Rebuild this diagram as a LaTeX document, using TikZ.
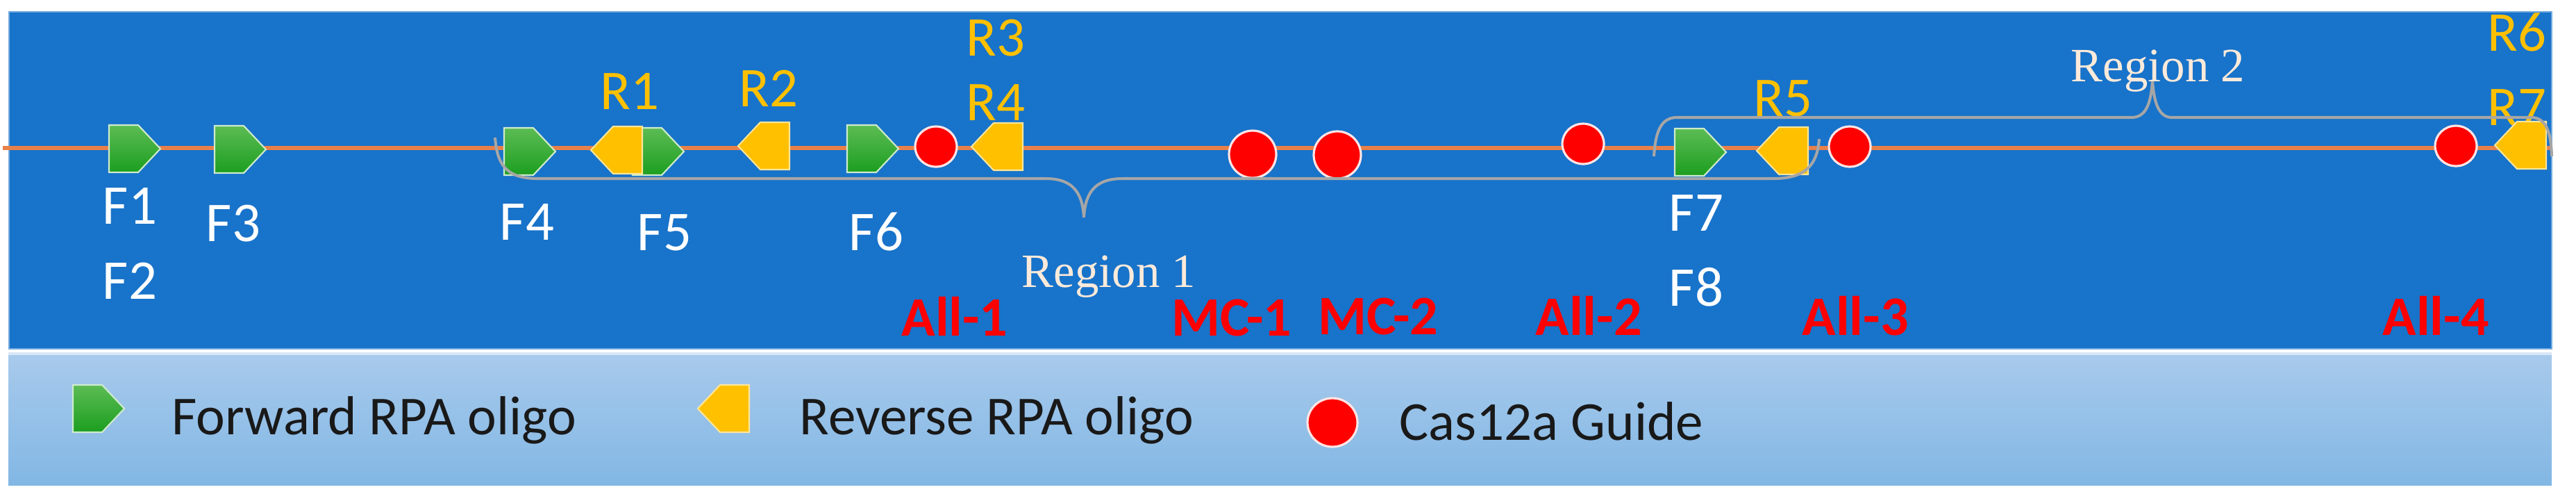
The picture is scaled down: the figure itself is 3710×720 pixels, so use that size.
\documentclass[tikz,border=0pt]{standalone}
\usepackage{fontspec}
\setmainfont{Carlito}
\newfontfamily\regionfont{Liberation Serif}
\usetikzlibrary{shapes.geometric}

\definecolor{panelblue}{RGB}{24,115,202}
\definecolor{legendtop}{RGB}{168,202,236}
\definecolor{legendbot}{RGB}{130,183,228}
\definecolor{strandorange}{RGB}{232,128,74}
\definecolor{fwdtop}{RGB}{92,188,84}
\definecolor{fwdbot}{RGB}{28,158,32}
\definecolor{revyellow}{RGB}{255,192,0}
\definecolor{guidered}{RGB}{255,0,0}
\definecolor{bracegray}{RGB}{166,166,166}
\definecolor{regioncream}{RGB}{253,234,218}

\tikzset{
  fwdoligo/.pic={\shadedraw[top color=fwdtop, bottom color=fwdbot, draw=white!70!fwdtop, line width=0.6pt]
      (-37,-34) -- (5,-34) -- (37,0) -- (5,34) -- (-37,34) -- cycle;},
  revoligo/.pic={\filldraw[fill=revyellow, draw=white!60!revyellow, line width=0.6pt]
      (37,-34) -- (-5,-34) -- (-37,0) -- (-5,34) -- (37,34) -- cycle;},
  guide/.style={ellipse, fill=guidered, draw=white!90!red, line width=0.9pt, inner sep=0pt,
      minimum width=6mm, minimum height=5.8mm},
  bigguide/.style={guide, minimum width=6.8mm, minimum height=6.8mm},
  flabel/.style={text=white, font=\fontsize{23pt}{27pt}\selectfont, anchor=base, inner sep=0pt},
  rlabel/.style={flabel, text=revyellow},
  glabel/.style={text=guidered, font=\bfseries\fontsize{22.8pt}{27pt}\selectfont, anchor=base, inner sep=0pt},
  regionlabel/.style={text=regioncream, font=\regionfont\fontsize{19.6pt}{24pt}\selectfont, anchor=base, inner sep=0pt},
  legendtext/.style={text=black!90, font=\fontsize{22.5pt}{27pt}\selectfont, anchor=base west, inner sep=0pt},
  regionbrace/.style={draw=bracegray, line width=1.15pt},
}

\begin{document}
\begin{tikzpicture}[x=0.1mm, y=-0.1mm]
  \useasboundingbox (0,0) rectangle (3710,720);

  % Panels
  \fill[panelblue, draw=panelblue!60!white, line width=0.6pt] (13,17) rectangle (3675,502);
  \shade[top color=legendtop, bottom color=legendbot] (12,508) rectangle (3675,698);
  \draw[white!55!legendtop, line width=1pt] (12,509) -- (3675,509);

  % Target strand
  \coordinate (s0) at (4,213);
  \coordinate (s1) at (3673,213);
  \draw[strandorange, line width=1.7pt] (s0) -- (s1);

  % Oligo names
  \node[flabel] (f1) at (187,322) {F1};
  \node[flabel] (f2) at (187,430) {F2};
  \node[flabel] (f3) at (336,347) {F3};
  \node[flabel] (f4) at (759,345) {F4};
  \node[flabel] (f5) at (957,360) {F5};
  \node[flabel] (f6) at (1262,360) {F6};
  \node[flabel] (f7) at (2443,332) {F7};
  \node[flabel] (f8) at (2443,440) {F8};
  \node[rlabel] (r1) at (907,157) {R1};
  \node[rlabel] (r2) at (1107,153) {R2};
  \node[rlabel] (r3) at (1434,80) {R3};
  \node[rlabel] (r4) at (1434,173) {R4};
  \node[rlabel] (r5) at (2568,167) {R5};
  \node[rlabel] (r6) at (3625,73) {R6};
  \node[rlabel] (r7) at (3625,180) {R7};

  % Forward and reverse oligos
  \pic at (194,214) {fwdoligo};
  \pic at (346,215) {fwdoligo};
  \pic at (763,218) {fwdoligo};
  \pic at (948,218) {fwdoligo};
  \pic at (888,216) {revoligo};
  \pic at (1100,210) {revoligo};
  \pic at (1257,214) {fwdoligo};
  \pic at (1436,211) {revoligo};
  \pic at (2449,219) {fwdoligo};
  \pic at (2567,217) {revoligo};
  \pic at (3630,209) {revoligo};

  % Guides
  \node[guide] (all1) at (1348,211) {};
  \node[bigguide] (mc1) at (1804,222) {};
  \node[bigguide] (mc2) at (1926,223) {};
  \node[guide] (all2) at (2280,207) {};
  \node[guide] (all3) at (2664,211) {};
  \node[guide] (all4) at (3537,210) {};
  \node[glabel] (tall1) at (1375,483) {All-1};
  \node[glabel] (tmc1) at (1774,483) {MC-1};
  \node[glabel] (tmc2) at (1985,481) {MC-2};
  \node[glabel] (tall2) at (2288,482) {All-2};
  \node[glabel] (tall3) at (2672,482) {All-3};
  \node[glabel] (tall4) at (3508,482) {All-4};

  % Regions
  \draw[regionbrace] (713,198) .. controls (716,240) and (732,257) .. (775,257) -- (1506,257)
    .. controls (1540,257) and (1559,272) .. (1561,313) .. controls (1563,272) and (1582,257) .. (1617,257)
    -- (2553,257) .. controls (2598,257) and (2617,240) .. (2620,200);
  \draw[regionbrace] (2382,225) .. controls (2384,190) and (2392,169) .. (2415,169) -- (3070,169)
    .. controls (3090,169) and (3098,150) .. (3100,115) .. controls (3102,150) and (3110,169) .. (3128,169)
    -- (3645,169) .. controls (3667,169) and (3674,190) .. (3675,225);
  \node[regionlabel] (reg1) at (1597,413) {Region 1};
  \node[regionlabel] (reg2) at (3108,117) {Region 2};

  % Legend
  \pic at (142,588) {fwdoligo};
  \node[legendtext] (lfwd) at (247,625) {Forward RPA oligo};
  \pic at (1042,588) {revoligo};
  \node[legendtext] (lrev) at (1151,625) {Reverse RPA oligo};
  \node[guide, minimum width=7.2mm, minimum height=7mm] (lguide) at (1919,608) {};
  \node[legendtext] (lcas) at (2015,633) {Cas12a Guide};
\end{tikzpicture}
\end{document}
